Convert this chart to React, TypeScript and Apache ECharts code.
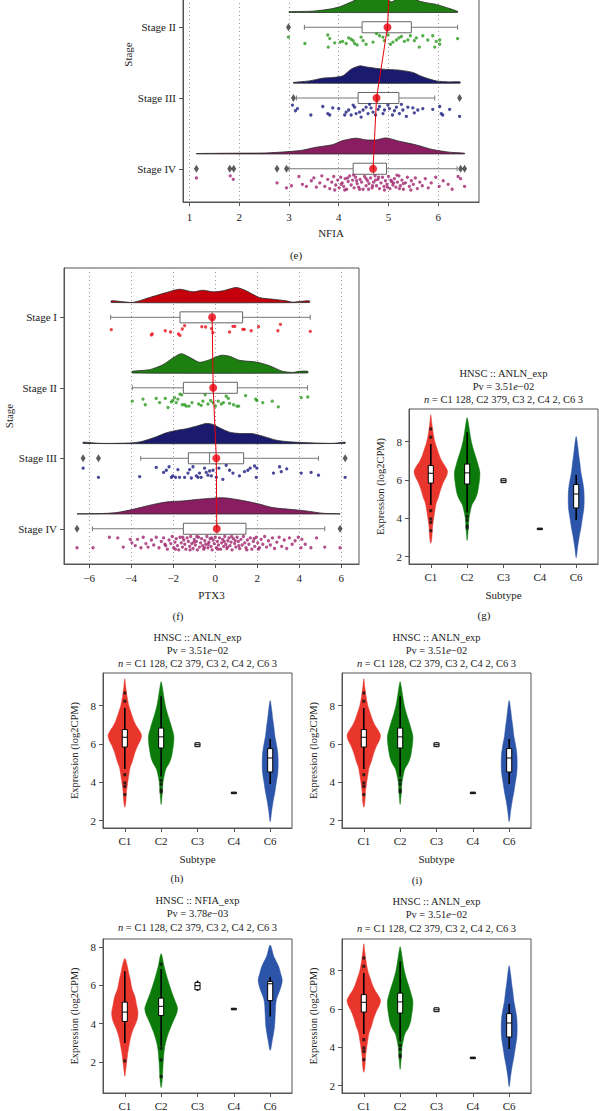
import React, { useEffect, useRef } from "react";
import * as echarts from "echarts";

const FONT = "'Liberation Serif', 'DejaVu Serif', serif";
const TXT = "#222";
const AX = "#555";

// ---------- Raincloud panels ----------
const stageNames = ["Stage I", "Stage II", "Stage III", "Stage IV"];
const stageTicks = [1, 2, 3, 4];
const stageTicksE = [2, 3, 4]; // Stage I of panel (e) lies above the page
const stageFill = ["#c4000c", "#1c7f10", "#1a1a6e", "#8a1c62"];
const stageDot = ["#e8141e", "#2b9a1e", "#1c1c80", "#a0246e"];

// Panel (e) NFIA
const nfiaTicks = [1, 2, 3, 4, 5, 6];
const nfiaStages = [2, 3, 4];
const nfiaMeans = [5.05, 4.98, 4.76, 4.69];
// [stage, whiskerLow, q1, median, q3, whiskerHigh]
const nfiaBoxes = [
  [2, 3.31, 4.47, 4.98, 5.46, 6.39],
  [3, 3.15, 4.39, 4.78, 5.21, 5.93],
  [4, 3.0, 4.29, 4.7, 4.96, 6.38],
];
// [x, stage]
const nfiaOutliers = [
  [2.99, 2], [3.09, 3], [6.43, 3], [1.14, 4], [1.81, 4], [1.89, 4], [2.76, 4], [2.95, 4], [6.45, 4], [6.53, 4],
];
// density curves [x, height]
const nfiaDens2 = [[3.0, 0.01], [3.48, 0.018], [3.82, 0.047], [4.02, 0.08], [4.15, 0.117], [4.29, 0.16], [4.5, 0.22], [4.75, 0.24], [4.95, 0.2], [5.06, 0.15], [5.2, 0.2], [5.4, 0.22], [5.62, 0.16], [5.76, 0.137], [5.96, 0.113], [6.16, 0.07], [6.39, 0.015]];
const nfiaDens3 = [[3.09, 0.01], [3.41, 0.032], [3.68, 0.071], [3.88, 0.08], [4.08, 0.103], [4.25, 0.198], [4.42, 0.244], [4.55, 0.23], [4.89, 0.198], [5.22, 0.184], [5.49, 0.151], [5.69, 0.089], [5.96, 0.032], [6.23, 0.018], [6.44, 0.018]];
const nfiaDens4 = [[1.14, 0.005], [1.88, 0.01], [2.55, 0.014], [3.22, 0.047], [3.55, 0.095], [3.88, 0.131], [4.08, 0.188], [4.35, 0.222], [4.55, 0.198], [4.75, 0.198], [4.95, 0.226], [5.22, 0.179], [5.56, 0.127], [5.89, 0.061], [6.23, 0.024], [6.53, 0.01]];
// jitter points [x, offset below stage]
const nfiaDots2 = [[2.99, 0.14], [3.32, 0.23], [3.78, 0.11], [3.82, 0.16], [3.79, 0.28], [3.92, 0.22], [4.03, 0.21], [4.08, 0.2], [4.15, 0.23], [4.2, 0.15], [4.25, 0.17], [4.29, 0.19], [4.32, 0.23], [4.37, 0.25], [4.45, 0.14], [4.49, 0.19], [4.55, 0.24], [4.69, 0.21], [4.76, 0.09], [4.82, 0.12], [4.89, 0.14], [4.92, 0.19], [4.99, 0.11], [5.04, 0.24], [5.09, 0.21], [5.16, 0.18], [5.21, 0.15], [5.26, 0.13], [5.32, 0.2], [5.39, 0.18], [5.44, 0.12], [5.52, 0.19], [5.56, 0.15], [5.62, 0.28], [5.69, 0.12], [5.79, 0.18], [5.89, 0.12], [5.93, 0.28], [5.96, 0.2], [6.03, 0.18], [6.03, 0.24], [6.39, 0.16]];
const nfiaDots3 = [[3.07, 0.1], [3.17, 0.15], [3.13, 0.18], [3.44, 0.24], [3.68, 0.12], [3.78, 0.22], [3.82, 0.24], [3.88, 0.14], [4.0, 0.15], [4.12, 0.24], [4.15, 0.2], [4.2, 0.17], [4.25, 0.24], [4.29, 0.1], [4.32, 0.13], [4.35, 0.22], [4.42, 0.2], [4.45, 0.27], [4.49, 0.17], [4.55, 0.13], [4.59, 0.22], [4.62, 0.09], [4.65, 0.14], [4.69, 0.2], [4.74, 0.24], [4.79, 0.16], [4.82, 0.12], [4.89, 0.22], [4.92, 0.17], [4.99, 0.1], [5.02, 0.15], [5.08, 0.24], [5.12, 0.18], [5.16, 0.13], [5.22, 0.22], [5.26, 0.09], [5.29, 0.17], [5.36, 0.26], [5.39, 0.13], [5.49, 0.14], [5.52, 0.21], [5.59, 0.17], [5.69, 0.15], [5.89, 0.16], [6.03, 0.12], [6.06, 0.22], [6.09, 0.24], [6.23, 0.16], [6.43, 0.26]];
const nfiaDots4 = [[1.14, 0.13], [1.82, 0.1], [1.88, 0.15], [2.76, 0.2], [2.95, 0.27], [3.05, 0.24], [3.2, 0.11], [3.27, 0.22], [3.35, 0.25], [3.45, 0.17], [3.5, 0.13], [3.55, 0.26], [3.62, 0.2], [3.66, 0.1], [3.72, 0.25], [3.78, 0.15], [3.82, 0.28], [3.86, 0.19], [3.9, 0.11], [3.94, 0.23], [3.98, 0.16], [4.01, 0.27], [4.04, 0.12], [4.07, 0.2], [4.1, 0.25], [4.13, 0.14], [4.16, 0.29], [4.19, 0.18], [4.22, 0.1], [4.25, 0.23], [4.28, 0.16], [4.31, 0.27], [4.34, 0.12], [4.37, 0.21], [4.4, 0.26], [4.43, 0.15], [4.46, 0.19], [4.49, 0.29], [4.52, 0.11], [4.55, 0.24], [4.58, 0.17], [4.61, 0.21], [4.64, 0.13], [4.67, 0.27], [4.7, 0.19], [4.73, 0.1], [4.76, 0.24], [4.79, 0.15], [4.82, 0.28], [4.85, 0.2], [4.88, 0.12], [4.91, 0.25], [4.94, 0.17], [4.97, 0.22], [5.0, 0.11], [5.03, 0.28], [5.06, 0.18], [5.09, 0.23], [5.12, 0.14], [5.15, 0.26], [5.18, 0.19], [5.21, 0.1], [5.24, 0.24], [5.27, 0.16], [5.3, 0.29], [5.34, 0.2], [5.38, 0.12], [5.42, 0.25], [5.46, 0.17], [5.5, 0.22], [5.54, 0.13], [5.58, 0.28], [5.63, 0.19], [5.68, 0.24], [5.74, 0.14], [5.8, 0.27], [5.86, 0.2], [5.95, 0.12], [6.02, 0.25], [6.1, 0.17], [6.2, 0.22], [6.28, 0.29], [6.4, 0.11], [6.45, 0.14], [6.53, 0.25], [3.92, 0.3], [4.05, 0.22], [4.18, 0.13], [4.3, 0.09], [4.42, 0.29], [4.55, 0.14], [4.68, 0.24], [4.8, 0.12], [4.92, 0.3], [5.05, 0.16], [5.17, 0.09], [5.3, 0.21], [5.45, 0.3], [4.36, 0.17], [4.6, 0.29], [4.98, 0.26], [5.22, 0.28], [4.12, 0.3], [4.74, 0.16], [5.1, 0.2]];

// Panel (f) PTX3
const ptx3Ticks = [-6, -4, -2, 0, 2, 4, 6];
const ptx3Stages = [1, 2, 3, 4];
const ptx3Means = [-0.15, -0.1, 0.05, 0.07];
const ptx3Boxes = [
  [1, -4.98, -1.68, -0.15, 1.3, 4.52],
  [2, -3.95, -1.52, -0.1, 1.05, 4.39],
  [3, -3.55, -1.28, -0.27, 1.35, 4.91],
  [4, -5.85, -1.52, 0.08, 1.46, 5.21],
];
const ptx3Outliers = [[-6.29, 3], [-5.56, 3], [6.18, 3], [-6.58, 4], [5.94, 4]];
const ptx3Dens1 = [[-4.95, 0.024], [-4.5, 0.015], [-3.91, 0.002], [-3.13, 0.071], [-2.33, 0.142], [-1.7, 0.189], [-1.06, 0.152], [-0.59, 0.175], [-0.11, 0.152], [0.36, 0.166], [1.0, 0.213], [1.47, 0.166], [2.1, 0.071], [2.74, 0.047], [3.37, 0.024], [3.69, 0.005], [4.0, 0.014], [4.48, 0.024]];
const ptx3Dens2 = [[-3.95, 0.024], [-3.13, 0.047], [-2.49, 0.118], [-2.02, 0.213], [-1.62, 0.274], [-1.22, 0.223], [-0.75, 0.152], [-0.27, 0.189], [0.28, 0.251], [0.68, 0.237], [1.15, 0.18], [1.94, 0.156], [2.58, 0.104], [3.2, 0.024], [3.69, 0.008], [4.0, 0.024], [4.4, 0.024]];
const ptx3Dens3 = [[-6.29, 0.019], [-5.5, 0.002], [-4.71, 0.002], [-3.91, 0.01], [-3.44, 0.033], [-2.81, 0.095], [-2.33, 0.152], [-1.86, 0.185], [-1.38, 0.209], [-0.9, 0.246], [-0.43, 0.284], [-0.11, 0.27], [0.2, 0.223], [0.68, 0.16], [1.15, 0.142], [1.79, 0.138], [2.26, 0.104], [2.9, 0.047], [3.53, 0.024], [4.48, 0.01], [5.6, 0.002], [6.18, 0.019]];
const ptx3Dens4 = [[-6.58, 0.002], [-5.5, 0.005], [-4.71, 0.019], [-3.91, 0.066], [-3.13, 0.123], [-2.33, 0.17], [-1.54, 0.185], [-0.75, 0.209], [0.05, 0.227], [0.52, 0.227], [1.15, 0.199], [1.94, 0.152], [2.74, 0.09], [3.53, 0.066], [4.32, 0.043], [5.12, 0.01], [5.94, 0.002]];
const ptx3Dots1 = [[-4.95, 0.175], [-3.04, 0.25], [-3.0, 0.237], [-2.38, 0.19], [-2.13, 0.208], [-1.75, 0.237], [-1.68, 0.256], [-1.57, 0.166], [-1.46, 0.118], [-0.64, 0.133], [-0.46, 0.137], [-0.18, 0.161], [-0.11, 0.218], [0.68, 0.208], [0.84, 0.128], [0.93, 0.128], [1.31, 0.17], [1.38, 0.17], [1.71, 0.19], [2.06, 0.133], [2.98, 0.19], [3.1, 0.1], [4.52, 0.2]];
const ptx3Dots2 = [[-3.95, 0.19], [-3.44, 0.16], [-3.33, 0.24], [-2.81, 0.15], [-2.65, 0.21], [-2.38, 0.15], [-2.25, 0.28], [-2.09, 0.2], [-2.02, 0.18], [-1.94, 0.14], [-1.86, 0.21], [-1.78, 0.16], [-1.68, 0.09], [-1.6, 0.1], [-1.57, 0.24], [-1.46, 0.24], [-1.38, 0.26], [-1.25, 0.26], [-1.11, 0.21], [-0.79, 0.23], [-0.67, 0.25], [-0.59, 0.19], [-0.48, 0.1], [-0.35, 0.23], [-0.22, 0.18], [-0.11, 0.21], [0.01, 0.26], [0.14, 0.19], [0.29, 0.23], [0.39, 0.21], [0.52, 0.12], [0.62, 0.15], [0.68, 0.22], [0.87, 0.24], [1.03, 0.26], [1.11, 0.26], [1.44, 0.11], [1.92, 0.16], [1.98, 0.18], [2.26, 0.21], [2.71, 0.19], [3.0, 0.27], [4.09, 0.14], [4.4, 0.13]];
const ptx3Dots3 = [[-6.29, 0.14], [-5.56, 0.27], [-3.6, 0.26], [-2.81, 0.13], [-2.46, 0.2], [-2.33, 0.17], [-2.2, 0.12], [-2.09, 0.27], [-2.02, 0.25], [-1.89, 0.27], [-1.78, 0.16], [-1.7, 0.27], [-1.46, 0.27], [-1.3, 0.21], [-1.22, 0.16], [-1.14, 0.28], [-1.06, 0.12], [-0.9, 0.25], [-0.82, 0.27], [-0.75, 0.21], [-0.67, 0.27], [-0.51, 0.14], [-0.43, 0.2], [-0.35, 0.24], [-0.27, 0.18], [-0.19, 0.25], [-0.11, 0.17], [0.05, 0.27], [0.17, 0.14], [0.36, 0.3], [0.52, 0.1], [0.68, 0.17], [0.84, 0.21], [1.15, 0.25], [1.39, 0.19], [1.55, 0.17], [1.66, 0.14], [1.87, 0.11], [1.98, 0.14], [1.95, 0.27], [2.77, 0.21], [3.06, 0.12], [3.14, 0.19], [3.4, 0.15], [4.09, 0.21], [4.56, 0.2], [4.91, 0.24], [6.18, 0.27]];
const ptx3Dots4 = [[-6.58, 0.27], [-5.82, 0.27], [-5.04, 0.12], [-4.64, 0.13], [-4.38, 0.26], [-4.05, 0.15], [-3.97, 0.2], [-3.81, 0.24], [-3.7, 0.15], [-3.54, 0.27], [-3.43, 0.12], [-3.3, 0.21], [-3.2, 0.26], [-3.04, 0.16], [-2.93, 0.23], [-2.81, 0.12], [-2.68, 0.27], [-2.57, 0.18], [-2.46, 0.13], [-2.36, 0.24], [-2.28, 0.29], [-2.2, 0.16], [-2.12, 0.21], [-2.05, 0.11], [-1.98, 0.27], [-1.92, 0.19], [-1.86, 0.14], [-1.8, 0.24], [-1.74, 0.3], [-1.68, 0.12], [-1.62, 0.2], [-1.56, 0.26], [-1.5, 0.16], [-1.45, 0.22], [-1.4, 0.29], [-1.34, 0.13], [-1.28, 0.18], [-1.22, 0.25], [-1.17, 0.11], [-1.12, 0.21], [-1.06, 0.28], [-1.0, 0.15], [-0.95, 0.23], [-0.9, 0.18], [-0.85, 0.3], [-0.8, 0.12], [-0.75, 0.26], [-0.7, 0.2], [-0.65, 0.14], [-0.6, 0.24], [-0.55, 0.29], [-0.5, 0.17], [-0.45, 0.22], [-0.4, 0.11], [-0.35, 0.27], [-0.3, 0.19], [-0.25, 0.14], [-0.2, 0.25], [-0.15, 0.3], [-0.1, 0.16], [-0.05, 0.21], [0.0, 0.12], [0.05, 0.27], [0.1, 0.18], [0.15, 0.23], [0.2, 0.13], [0.25, 0.29], [0.3, 0.2], [0.35, 0.15], [0.4, 0.25], [0.45, 0.11], [0.5, 0.22], [0.55, 0.28], [0.6, 0.17], [0.65, 0.13], [0.7, 0.24], [0.75, 0.19], [0.8, 0.3], [0.86, 0.14], [0.92, 0.21], [0.98, 0.26], [1.04, 0.12], [1.1, 0.18], [1.16, 0.28], [1.22, 0.15], [1.28, 0.23], [1.34, 0.11], [1.4, 0.2], [1.46, 0.27], [1.53, 0.16], [1.6, 0.22], [1.67, 0.13], [1.74, 0.29], [1.81, 0.18], [1.88, 0.25], [1.95, 0.12], [2.02, 0.2], [2.1, 0.27], [2.18, 0.15], [2.26, 0.22], [2.35, 0.11], [2.44, 0.26], [2.53, 0.17], [2.62, 0.23], [2.72, 0.13], [2.82, 0.28], [2.93, 0.19], [3.04, 0.12], [3.16, 0.25], [3.28, 0.16], [3.4, 0.28], [3.53, 0.13], [3.66, 0.22], [3.8, 0.17], [3.95, 0.12], [4.08, 0.27], [4.12, 0.15], [4.28, 0.22], [4.55, 0.27], [4.82, 0.13], [5.21, 0.26], [5.94, 0.27], [-1.9, 0.29], [-1.55, 0.12], [-1.2, 0.3], [-0.88, 0.11], [-0.52, 0.27], [-0.18, 0.13], [0.12, 0.29], [0.42, 0.18], [0.78, 0.11], [1.12, 0.24], [1.5, 0.3], [1.85, 0.14], [2.05, 0.29], [-2.4, 0.22], [-1.02, 0.19], [0.58, 0.26], [-0.33, 0.22], [0.95, 0.17]];

// ---------- Violin panels ----------
const subtypes = ["C1", "C2", "C3", "C4", "C6"];
const subtypeTicks = [1, 2, 3, 4, 5];
const exprTicks = [2, 4, 6, 8];
const violinColors = ["#e8362d", "#0b7a0b", "#2c54a8"];
// profiles [y, half width]
const anlnC1 = [[2.7, 0], [3.0, 0.03], [3.5, 0.045], [4.0, 0.08], [4.5, 0.12], [4.8, 0.15], [5.1, 0.21], [5.5, 0.27], [5.9, 0.35], [6.2, 0.43], [6.45, 0.46], [6.7, 0.4], [7.0, 0.3], [7.3, 0.23], [7.7, 0.16], [8.0, 0.11], [8.5, 0.06], [9.0, 0.025], [9.4, 0]];
const anlnC2 = [[2.85, 0], [3.2, 0.02], [3.6, 0.035], [4.0, 0.05], [4.4, 0.09], [4.7, 0.13], [5.0, 0.22], [5.3, 0.28], [5.6, 0.31], [6.0, 0.34], [6.4, 0.35], [6.8, 0.3], [7.3, 0.22], [7.6, 0.17], [8.0, 0.115], [8.5, 0.07], [9.0, 0.03], [9.25, 0]];
const anlnC6 = [[1.95, 0], [2.5, 0.04], [3.0, 0.08], [3.5, 0.13], [4.0, 0.17], [4.5, 0.21], [5.0, 0.22], [5.5, 0.21], [5.9, 0.18], [6.4, 0.13], [6.9, 0.1], [7.3, 0.07], [7.8, 0.04], [8.26, 0]];
const nfiaC1 = [[1.25, 0], [1.75, 0.035], [2.45, 0.08], [3.0, 0.13], [3.35, 0.17], [3.7, 0.23], [4.0, 0.3], [4.3, 0.35], [4.6, 0.36], [5.0, 0.32], [5.4, 0.28], [5.8, 0.2], [6.3, 0.15], [6.7, 0.1], [7.0, 0.07], [7.4, 0]];
const nfiaC2 = [[0.65, 0], [1.06, 0.03], [1.93, 0.055], [2.8, 0.1], [3.5, 0.2], [4.2, 0.35], [4.5, 0.42], [4.8, 0.45], [5.1, 0.4], [5.6, 0.3], [6.3, 0.18], [7.0, 0.08], [7.65, 0]];
const nfiaC6 = [[2.6, 0], [3.15, 0.06], [3.85, 0.12], [4.55, 0.14], [5.24, 0.17], [5.77, 0.27], [6.1, 0.32], [6.3, 0.33], [6.6, 0.29], [7.0, 0.23], [7.5, 0.1], [8.1, 0]];
const violinCatsShown = [1, 2, 5];
// [category, whiskerLow, q1, median, q3, whiskerHigh]
const anlnBoxes = [
  [1, 4.7, 5.84, 6.35, 6.75, 7.88],
  [2, 4.31, 5.79, 6.37, 6.83, 8.49],
  [3, 5.84, 5.86, 5.96, 6.06, 6.08],
  [4, 3.4, 3.41, 3.45, 3.49, 3.5],
  [5, 3.91, 4.54, 5.27, 5.76, 6.26],
];
const anlnOutliers = [[1, 8.66], [1, 8.23], [1, 4.4], [1, 3.97], [1, 3.79], [1, 3.36], [2, 4.1], [2, 3.9], [2, 3.6], [2, 3.5]];
const nfiaVBoxes = [
  [1, 2.98, 4.11, 4.6, 5.12, 6.73],
  [2, 2.8, 4.42, 4.9, 5.33, 6.85],
  [3, 5.7, 5.77, 5.98, 6.15, 6.25],
  [4, 4.71, 4.72, 4.76, 4.8, 4.81],
  [5, 4.37, 5.2, 6.08, 6.2, 6.43],
];
const nfiaVOutliers = [[1, 2.05], [2, 2.7], [2, 2.1], [2, 1.23], [2, 7.1]];

const anlnTitle = ["HNSC :: ANLN_exp", "Pv = 3.51{i|e}\u221202", "{i|n} = C1 128, C2 379, C3 2, C4 2, C6 3"];
const nfiaTitle = ["HNSC :: NFIA_exp", "Pv = 3.78{i|e}\u221203", "{i|n} = C1 128, C2 379, C3 2, C4 2, C6 3"];

// the top of panel (e) lies above the page; the whole canvas is shifted up by this much
const SHIFT = 93;

function minusFmt(v: number) {
  return v < 0 ? "\u2212" + Math.abs(v) : String(v);
}

const lbl = { fontFamily: FONT, fontSize: 11, color: TXT };

function rainXAxis(gi: number, min: number, max: number, ticks: number[], name: string, margin: number) {
  return {
    gridIndex: gi, type: "value", min, max, name, nameLocation: "middle", nameGap: 25,
    nameTextStyle: { ...lbl },
    axisLine: { show: true, onZero: false, lineStyle: { color: AX } },
    axisTick: { show: true, length: 4, customValues: ticks, lineStyle: { color: AX } },
    axisLabel: { ...lbl, customValues: ticks, margin, formatter: minusFmt },
    splitLine: { show: true, lineStyle: { color: "#999", type: [1, 3], width: 1 } },
  };
}
function rainYAxis(gi: number, max: number, nameGap: number, ticks: number[]) {
  return {
    gridIndex: gi, type: "value", inverse: true, min: 0.3, max, name: "Stage", nameLocation: "middle", nameGap, nameRotate: 90,
    nameTextStyle: { ...lbl },
    axisLine: { show: true, onZero: false, lineStyle: { color: AX } },
    axisTick: { show: true, length: 4, customValues: ticks, lineStyle: { color: AX } },
    axisLabel: { ...lbl, customValues: ticks, margin: 7, formatter: (v: number) => stageNames[Math.round(v) - 1] },
    splitLine: { show: false },
  };
}
function violinXAxis(gi: number, withName: boolean) {
  return {
    gridIndex: gi, type: "value", min: 0.4, max: 5.6, name: withName ? "Subtype" : "", nameLocation: "middle", nameGap: 25,
    nameTextStyle: { ...lbl },
    axisLine: { show: true, onZero: false, lineStyle: { color: AX } },
    axisTick: { show: true, length: 4, customValues: subtypeTicks, lineStyle: { color: AX } },
    axisLabel: { ...lbl, customValues: subtypeTicks, margin: 7, formatter: (v: number) => subtypes[Math.round(v) - 1] },
    splitLine: { show: false },
  };
}
function violinYAxis(gi: number, min: number, max: number) {
  return {
    gridIndex: gi, type: "value", min, max, name: "Expression (log2CPM)", nameLocation: "middle", nameGap: 23, nameRotate: 90,
    nameTextStyle: { ...lbl, fontSize: 10.5 },
    axisLine: { show: true, onZero: false, lineStyle: { color: AX } },
    axisTick: { show: true, length: 4, customValues: exprTicks, lineStyle: { color: AX } },
    axisLabel: { ...lbl, customValues: exprTicks, margin: 7 },
    splitLine: { show: false },
  };
}

const DBASE = 0.21;
const BOXH = 0.078;
const CAPH = 0.035;

function rainSeries(gi: number, stages: number[], dens: number[][][], boxes: number[][], outliers: number[][], means: number[], dots: number[][][]) {
  const series: any[] = [];
  series.push({
    type: "custom", xAxisIndex: gi, yAxisIndex: gi, z: 1, silent: true,
    data: stages.map((s, i) => [dens[i][0][0], s]),
    renderItem: (params: any, api: any) => {
      const i = params.dataIndex;
      const s = stages[i];
      const c = dens[i];
      const pts: number[][] = [api.coord([c[0][0], s - DBASE])];
      c.forEach(([x, h]) => pts.push(api.coord([x, s - DBASE - h])));
      pts.push(api.coord([c[c.length - 1][0], s - DBASE]));
      return {
        type: "polygon",
        shape: { points: pts, smooth: 0.25 },
        style: { fill: stageFill[s - 1], stroke: "#2a2a2a", lineWidth: 0.8 },
      };
    },
  });
  series.push({
    type: "custom", xAxisIndex: gi, yAxisIndex: gi, z: 2, silent: true,
    data: boxes.map((b) => [b[3], b[0]]),
    renderItem: (params: any, api: any) => {
      const [s, lo, q1, md, q3, hi] = boxes[params.dataIndex];
      const p = (x: number, y: number) => api.coord([x, y]);
      const ln = (a: number[], b: number[]) => ({ type: "line", shape: { x1: a[0], y1: a[1], x2: b[0], y2: b[1] }, style: { stroke: "#777", lineWidth: 1 } });
      const a = p(q1, s - BOXH);
      const b = p(q3, s + BOXH);
      return {
        type: "group",
        children: [
          ln(p(lo, s), p(q1, s)),
          ln(p(q3, s), p(hi, s)),
          ln(p(lo, s - CAPH), p(lo, s + CAPH)),
          ln(p(hi, s - CAPH), p(hi, s + CAPH)),
          { type: "rect", shape: { x: a[0], y: a[1], width: b[0] - a[0], height: b[1] - a[1] }, style: { fill: "#fff", stroke: "#666", lineWidth: 1 } },
          ln(p(md, s - BOXH), p(md, s + BOXH)),
        ],
      };
    },
  });
  stages.forEach((s, i) => {
    series.push({
      type: "scatter", xAxisIndex: gi, yAxisIndex: gi, z: 3, silent: true,
      symbol: "circle", symbolSize: 3.3,
      itemStyle: { color: stageDot[s - 1] },
      data: dots[i].map(([x, o]) => [x, s + o]),
    });
  });
  series.push({
    type: "scatter", xAxisIndex: gi, yAxisIndex: gi, z: 3, silent: true,
    symbol: "diamond", symbolSize: [5, 8],
    itemStyle: { color: "#333" },
    data: outliers,
  });
  series.push({
    type: "line", xAxisIndex: gi, yAxisIndex: gi, z: 4, silent: true, symbol: "none",
    lineStyle: { color: "#e8000d", width: 1 },
    data: means.map((m, i) => [m, i + 1]),
  });
  series.push({
    type: "scatter", xAxisIndex: gi, yAxisIndex: gi, z: 5, silent: true,
    symbol: "circle", symbolSize: 8,
    itemStyle: { color: "#e8000d" },
    data: means.map((m, i) => [m, i + 1]),
  });
  return series;
}

function violinSeries(gi: number, profiles: number[][][], boxes: number[][], outliers: number[][]) {
  const series: any[] = [];
  series.push({
    type: "custom", xAxisIndex: gi, yAxisIndex: gi, z: 1, silent: true,
    data: violinCatsShown.map((c, i) => [c, profiles[i][0][0]]),
    renderItem: (params: any, api: any) => {
      const i = params.dataIndex;
      const c = violinCatsShown[i];
      const prof = profiles[i];
      const right = prof.map(([y, w]) => api.coord([c + w, y]));
      const left = prof.slice(1, -1).reverse().map(([y, w]) => api.coord([c - w, y]));
      return {
        type: "polygon",
        shape: { points: right.concat(left), smooth: 0.3 },
        style: { fill: violinColors[i], stroke: violinColors[i], lineWidth: 0.5 },
      };
    },
  });
  series.push({
    type: "custom", xAxisIndex: gi, yAxisIndex: gi, z: 2, silent: true,
    data: boxes.map((b) => [b[0], b[3]]),
    renderItem: (params: any, api: any) => {
      const [c, lo, q1, md, q3, hi] = boxes[params.dataIndex];
      const p = (x: number, y: number) => api.coord([x, y]);
      const hw = 0.07;
      const a = p(c - hw, q3);
      const b = p(c + hw, q1);
      const m1 = p(c - hw, md);
      const m2 = p(c + hw, md);
      const w1 = p(c, lo);
      const w2 = p(c, hi);
      return {
        type: "group",
        children: [
          { type: "line", shape: { x1: w1[0], y1: w1[1], x2: w2[0], y2: w2[1] }, style: { stroke: "#000", lineWidth: 1.6 } },
          { type: "rect", shape: { x: a[0], y: a[1], width: b[0] - a[0], height: b[1] - a[1] }, style: { fill: "#fff", stroke: "#000", lineWidth: 1 } },
          { type: "line", shape: { x1: m1[0], y1: m1[1], x2: m2[0], y2: m2[1] }, style: { stroke: "#000", lineWidth: 1 } },
        ],
      };
    },
  });
  series.push({
    type: "scatter", xAxisIndex: gi, yAxisIndex: gi, z: 3, silent: true,
    symbol: "rect", symbolSize: 3,
    itemStyle: { color: "#111" },
    data: outliers,
  });
  return series;
}

function titleTexts(cx: number, yTop: number, lines: string[]) {
  return lines.map((t, i) => ({
    type: "text", x: cx, y: yTop + SHIFT + i * 13.4, silent: true,
    style: {
      text: t, fontFamily: FONT, fontSize: 10.5, fill: TXT,
      textAlign: "center", textVerticalAlign: "middle", align: "center", verticalAlign: "middle",
      rich: { i: { fontStyle: "italic", fontFamily: FONT, fontSize: 10.5, fill: TXT } },
    },
  }));
}
function caption(x: number, y: number, t: string) {
  return {
    type: "text", x, y: y + SHIFT, silent: true,
    style: { text: t, fontFamily: FONT, fontSize: 11, fill: TXT, textAlign: "center", textVerticalAlign: "middle", align: "center", verticalAlign: "middle" },
  };
}

function buildOption() {
  const gridStyle = { show: true, borderColor: AX, borderWidth: 1, backgroundColor: "transparent", containLabel: false };
  const grid = [
    { ...gridStyle, left: 183, top: -93 + SHIFT, width: 296, height: 295 },
    { ...gridStyle, left: 64, top: 268 + SHIFT, width: 295, height: 296 },
    { ...gridStyle, left: 409, top: 409 + SHIFT, width: 189, height: 155 },
    { ...gridStyle, left: 103, top: 673 + SHIFT, width: 189, height: 155 },
    { ...gridStyle, left: 342, top: 673 + SHIFT, width: 189, height: 155 },
    { ...gridStyle, left: 103, top: 939 + SHIFT, width: 189, height: 154 },
    { ...gridStyle, left: 342, top: 939 + SHIFT, width: 189, height: 154 },
  ];
  const xAxis = [
    rainXAxis(0, 0.87, 6.82, nfiaTicks, "NFIA", 9),
    rainXAxis(1, -7.2, 6.84, ptx3Ticks, "PTX3", 8),
    violinXAxis(2, true),
    violinXAxis(3, true),
    violinXAxis(4, true),
    violinXAxis(5, false),
    violinXAxis(6, false),
  ];
  const yAxis = [
    rainYAxis(0, 4.47, 49, stageTicksE),
    rainYAxis(1, 4.5, 47, stageTicks),
    violinYAxis(2, 1.62, 9.7),
    violinYAxis(3, 1.62, 9.7),
    violinYAxis(4, 1.62, 9.7),
    violinYAxis(5, 0.37, 8.42),
    violinYAxis(6, 1.62, 9.65),
  ];
  const series = [
    ...rainSeries(0, nfiaStages, [nfiaDens2, nfiaDens3, nfiaDens4], nfiaBoxes, nfiaOutliers, nfiaMeans, [nfiaDots2, nfiaDots3, nfiaDots4]),
    ...rainSeries(1, ptx3Stages, [ptx3Dens1, ptx3Dens2, ptx3Dens3, ptx3Dens4], ptx3Boxes, ptx3Outliers, ptx3Means, [ptx3Dots1, ptx3Dots2, ptx3Dots3, ptx3Dots4]),
    ...violinSeries(2, [anlnC1, anlnC2, anlnC6], anlnBoxes, anlnOutliers),
    ...violinSeries(3, [anlnC1, anlnC2, anlnC6], anlnBoxes, anlnOutliers),
    ...violinSeries(4, [anlnC1, anlnC2, anlnC6], anlnBoxes, anlnOutliers),
    ...violinSeries(5, [nfiaC1, nfiaC2, nfiaC6], nfiaVBoxes, nfiaVOutliers),
    ...violinSeries(6, [anlnC1, anlnC2, anlnC6], anlnBoxes, anlnOutliers),
  ];
  const graphic = [
    caption(296, 255, "(e)"),
    caption(178, 616, "(f)"),
    caption(484, 615, "(g)"),
    caption(177, 878, "(h)"),
    caption(417, 880, "(i)"),
    ...titleTexts(503.5, 373, anlnTitle),
    ...titleTexts(197.5, 637, anlnTitle),
    ...titleTexts(436.5, 637, anlnTitle),
    ...titleTexts(197.5, 900.5, nfiaTitle),
    ...titleTexts(436.5, 901.5, anlnTitle),
  ];
  return {
    animation: false,
    backgroundColor: "#fff",
    textStyle: { fontFamily: FONT },
    grid, xAxis, yAxis, series, graphic,
  };
}

export default function App() {
  const ref = useRef<HTMLDivElement>(null);
  useEffect(() => {
    const chart = echarts.init(ref.current as HTMLDivElement, null, { renderer: "svg" });
    chart.setOption(buildOption() as any);
    return () => chart.dispose();
  }, []);
  return (
    <div style={{ position: "absolute", left: 0, top: 0, width: 599, height: 1111, overflow: "hidden", background: "#fff" }}>
      <div ref={ref} style={{ position: "absolute", left: 0, top: -SHIFT, width: 599, height: 1111 + SHIFT }} />
    </div>
  );
}
